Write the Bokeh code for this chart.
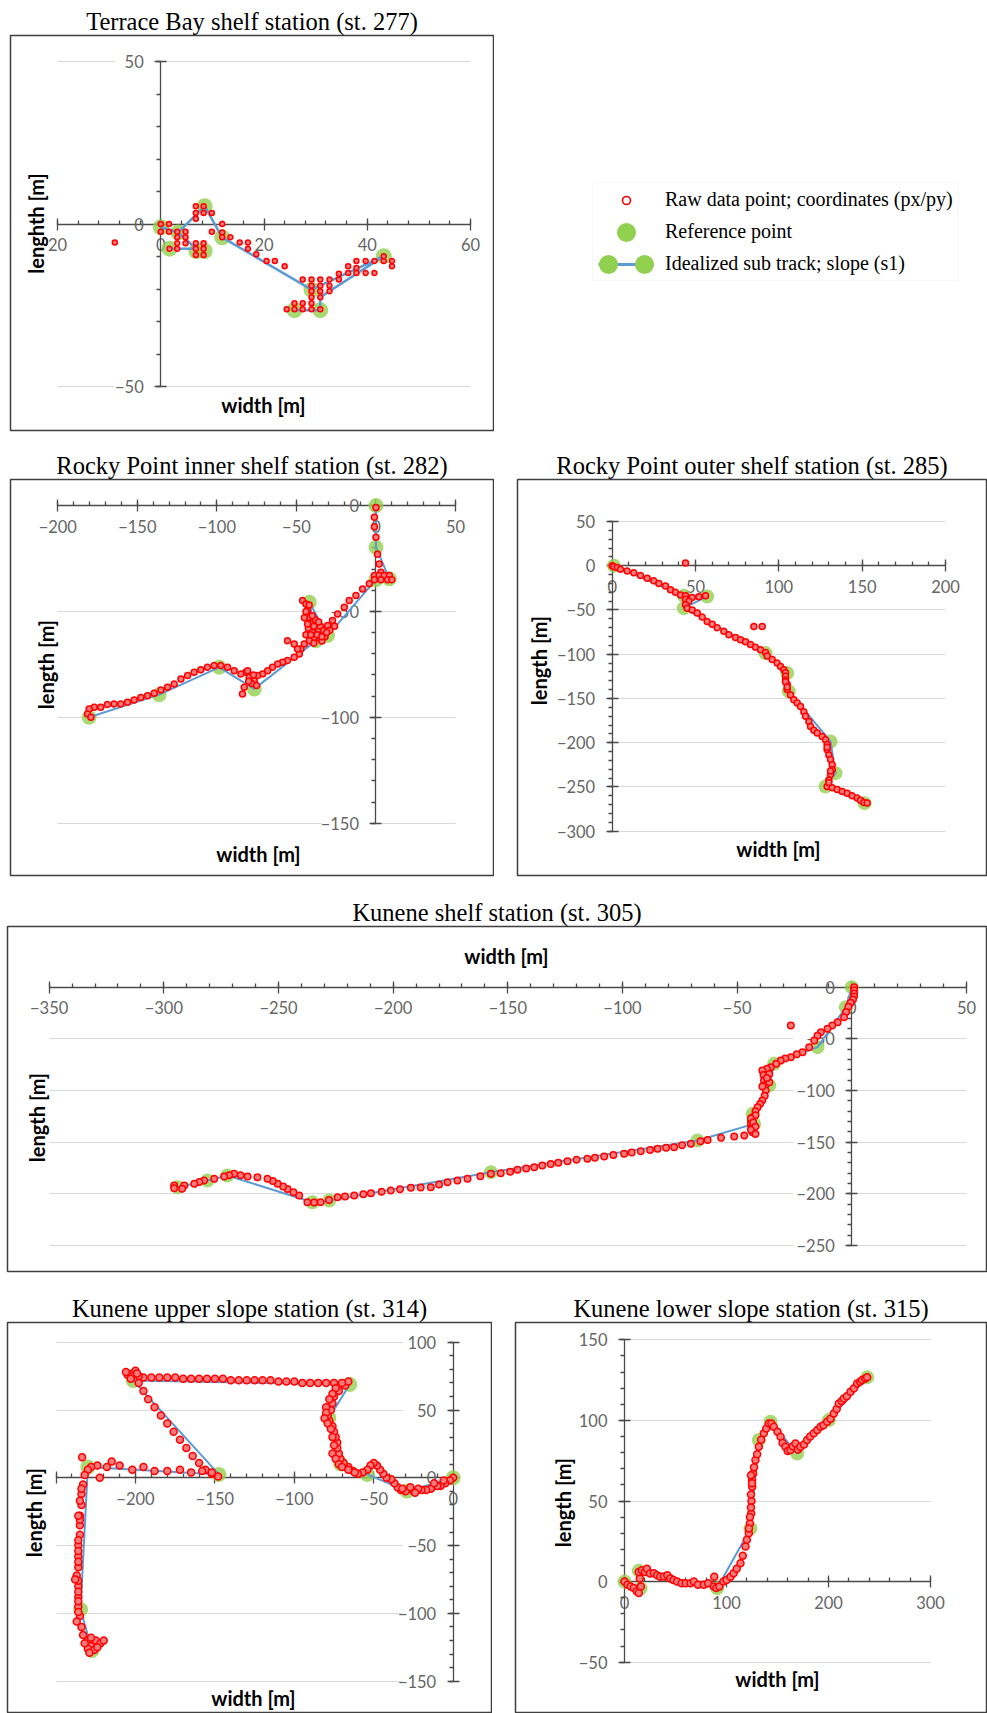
import math
from bokeh.plotting import figure
from bokeh.models import (LinearAxis, FixedTicker, Range1d, Label, Legend, LegendItem,
                          Grid, Spacer)
from bokeh.layouts import row, column
from bokeh.embed import file_html
from bokeh.resources import INLINE

# ------------------------------------------------------------------ data
# Terrace Bay shelf station (st. 277)
raw_277 = [(-8.9,-5.7),(0,0),(1.6,0),(0,-2.4),(1.6,-2.4),(3.2,-2.4),(4.8,-2.4),(3.2,-4.1),(4.8,-4.1),
           (3.2,-5.9),(4.8,-5.9),(3.2,-7.6),(1.7,-7.6),(6.8,5.5),(8.3,5.5),(6.8,3.4),(8.3,3.4),(9.9,3.4),
           (6.8,1.6),(6.8,-5.9),(8.3,-5.9),(6.8,-7.6),(8.3,-7.6),(6.8,-9.5),(8.3,-9.5),(9.9,-2.4),(11.9,0),
           (11.9,-2.6),(11.9,-4.1),(13.5,-4.1),(15.3,-5.7),(16.9,-5.7),(16.9,-7.6),(18.5,-9.3),(20.5,-11.4),
           (22.1,-11.4),(24.0,-13.0),(27.5,-17.1),(29.2,-17.1),(30.9,-17.1),(32.7,-17.1),(29.2,-19.0),
           (30.9,-19.0),(32.7,-19.0),(29.2,-20.7),(30.9,-20.7),(32.7,-20.7),(29.2,-22.5),(30.9,-22.5),
           (25.9,-24.4),(27.5,-24.4),(29.2,-24.4),(24.4,-26.2),(25.9,-26.2),(27.5,-26.2),(29.2,-26.2),
           (30.9,-26.2),(34.5,-15.3),(34.5,-17.1),(36.3,-13.0),(36.3,-15.1),(37.9,-11.4),(37.9,-13.5),
           (37.9,-15.1),(39.7,-11.4),(39.7,-15.1),(41.4,-11.4),(41.4,-15.1),(43.2,-9.9),(43.2,-11.4),
           (44.8,-11.4),(44.8,-13.0)]
ref_277 = [(0,-1),(3.4,-2.6),(1.7,-7.6),(6.9,-8.3),(8.5,-8.3),(8.5,5.5),(11.9,-4.1),(29.2,-20.2),
           (43.2,-9.9),(30.9,-26.5),(25.9,-26.5)]
track_277 = [[(0,-1),(3.4,-2.6),(8.5,5.5),(11.9,-4.1),(29.2,-20.2),(43.2,-9.9),(30.9,-22.5),(30.9,-26.5),(25.9,-26.5)],
             [(3.4,-2.6),(6.9,-7.6)],
             [(1.7,-7.6),(6.9,-7.6)]]

# Rocky Point inner shelf station (st. 282)
raw_282 = [(0,-1),(-1,-5.5),(-1,-10),(0,-15),(1,-23),(2,-27.6),(3.1,-31.5),(-1,-33),(2,-33),(5.2,-33),
           (8.4,-33),(-1,-35),(3.1,-35),(7.3,-35),(10,-35),(-4.2,-37),(-8.4,-39.4),(-12.6,-42.5),
           (-16.8,-44.9),(-19.9,-48),(-24.1,-51.2),(-27.3,-54.3),(-30.4,-56.7),(-26,-57),(-29,-59),
           (-46.1,-44.9),(-44,-46.5),(-43,-49.6),(-41.9,-52.8),(-40.9,-55.9),(-42.5,-58),(-37.7,-59),
           (-34.6,-60.6),(-32,-62),(-36,-62.5),(-38.8,-62.2),(-41.9,-63.8),(-45.1,-65.4),(-47.2,-67.7),
           (-48.2,-70.1),(-51.4,-71.7),(-55.6,-73.2),(-58.7,-74),(-61.8,-74.8),(-65,-76.4),(-68.1,-78),
           (-71.3,-79.5),(-74.4,-80.3),(-76.5,-82.7),(-79.7,-81.1),(-81.8,-78.7),(-82.8,-85.8),(-83.9,-89),
           (-80.7,-78),(-84.9,-79.5),(-89.1,-78),(-93.3,-76.4),(-97.5,-75.6),(-101.7,-75.6),(-105.9,-76.4),
           (-110.1,-77.6),(-114.3,-78.7),(-118.4,-80.3),(-122.6,-81.9),(-126.8,-84.3),(-131,-85.8),
           (-135.2,-87.1),(-139.4,-88.7),(-143.6,-89.8),(-147.8,-90.6),(-152,-91.8),(-156.2,-92.9),
           (-160.4,-93.7),(-164.6,-93.7),(-168.8,-94),(-173,-95.3),(-177.1,-95.3),(-180.3,-96.1),
           (-181.3,-98.4),(-179.2,-100),(-55.6,-63.8),(-51.4,-65.4),(-49.3,-67.7),(-38,-57),(-40,-60),
           (-36,-58.5),(-44,-61),(-39,-65),(-34,-64),(-45,-53),(-43,-56),(-78,-84),(-80,-83),(-77,-80),
           (-75,-85),(-38,-54),(-40,-52),(-42,-47),(-44,-50),(-35,-57),(-33,-59),(-31,-60),(-37,-61),
           (-39,-57),(-41,-61),(-36,-55),(-34,-62)]
ref_282 = [(0,0),(0,-19.7),(8.4,-34.6),(0,-35),(-30.4,-61.4),(-41.9,-45.7),(-37.7,-63.8),(-76.5,-86.6),
           (-98.5,-76.4),(-136.3,-89.3),(-180.3,-100)]

# Rocky Point outer shelf station (st. 285)
raw_285 = [(0,0),(1,-1),(3,-2),(5,-4),(9,-6),(13,-8),(17,-11),(21,-14),(25,-17),(28,-20),(32,-23),(35,-27),
           (38,-30),(41,-33),(44,-34),(48,-36),(52,-35),(56,-34),(44,-38),(46,-40),(44,-44),(45,-48),(48,-50),
           (51,-53.5),(54,-58),(57,-63),(60,-66),(63,-70),(67,-74),(70,-78),(74,-81),(77,-83.6),(80,-86),
           (83,-89),(86,-92),(89,-95),(92,-98),(93,-102),(96,-106),(99,-110),(101,-114),(103,-117.6),
           (104,-121),(104,-125),(104,-129),(105,-134),(105,-140),(107,-146),(109,-151.5),(111,-155),
           (113,-159),(115,-165),(116,-170),(118,-176),(119,-181.6),(121,-186),(123,-189),(126,-193),
           (128,-196.7),(129,-202),(129,-208),(130,-214),(131,-219),(132,-225),(132,-230.6),(131,-236),
           (130,-242),(129,-249.4),(132,-251),(135,-253),(138,-255),(141,-257),(144,-260),(147,-262.6),
           (149,-265),(151,-267.5),(153,-268),(44,3),(85,-68.6),(90,-68.6),(130,-245),(131,-232),
           (129,-205),(104,-131),(105,-137)]
ref_285 = [(1,0),(43,-33.9),(57,-34.7),(43,-47.9),(92,-98.7),(105,-121.3),(106,-142),(131,-198.6),
           (134,-234.4),(128,-249.4),(151.4,-268.3)]

# Kunene shelf station (st. 305)
raw_305 = [(1,0),(1,-3),(1,-6),(1,-9),(0.5,-12),(-0.5,-15),(-1.5,-19),(-2.5,-24),(-3.4,-29),(-6.2,-33.9),
           (-8.5,-37),(-10.6,-40.3),(-13.5,-43.5),(-15,-47),(-16.4,-51.6),(-18.6,-58),(-21.5,-62.9),(-24,-65),
           (-26.6,-67.8),(-29,-69),(-31,-71),(-33,-74),(-35.3,-77.4),(-37,-79),(-39,-80.6),(-38.5,-85),
           (-38.3,-90.3),(-37.8,-95),(-37.5,-100),(-38,-105),(-39,-109.7),(-40,-113),(-41.1,-116.2),
           (-42,-120),(-43.3,-125.8),(-44,-129),(-44,-132.3),(-43.8,-136),(-43.3,-140.4),(-46.9,-143.6),
           (-51.3,-144.6),(-57,-145.8),(-62.9,-147.8),(-66,-149),(-70.2,-151.6),(-74,-153),(-77.5,-154.9),
           (-81,-155.5),(-84.7,-156.4),(-88,-157.5),(-92,-158.8),(-96,-160),(-99.3,-161.3),(-104,-162.5),
           (-108,-163.9),(-112,-165),(-115.3,-166.1),(-120,-167),(-124,-168.4),(-128,-170),(-131.3,-171),
           (-135,-172.5),(-138.5,-174.2),(-142,-175.5),(-145.8,-176.8),(-149,-178.5),(-153.1,-180),
           (-157.4,-180.6),(-162,-183),(-167.6,-185.5),(-172,-187),(-176.3,-188.8),(-180,-191),
           (-183.6,-193.6),(-188,-193.8),(-192.3,-194.2),(-197,-195.5),(-201,-196.8),(-205,-198),
           (-209.7,-199.4),(-213,-200.5),(-217,-201.6),(-221,-202.5),(-224.2,-203.3),(-228,-206),
           (-231.6,-208.1),(-234.5,-208.5),(-237.4,-208.1),(-241,-201.6),(-243.5,-198.5),(-246.1,-195.2),
           (-248,-193),(-250.4,-190.3),(-252.5,-187.5),(-254.8,-185.5),(-259.2,-183.9),(-263.5,-183.3),
           (-266.5,-182),(-269.3,-180.6),(-271.5,-182),(-273.7,-183.3),(-278,-185.5),(-282.4,-187.1),
           (-284.5,-188.5),(-286.7,-190.3),(-291.1,-192),(-295.5,-192),(-295.5,-194.5),(-292,-195),
           (-26.6,-37),(-42,-124),(-44,-127),(-43,-131),(-42,-135),(-44,-138),(-42,-142),(-36,-84),
           (-36,-92),(-39,-96),(-37,-88)]
ref_305 = [(0,0),(-2.6,-19.4),(-15,-58),(-33.9,-74.2),(-36,-95),(-43.3,-122.6),(-42.6,-132.3),
           (-67.3,-148.4),(-157.4,-179),(-227.9,-206.5),(-235.2,-208.1),(-272.3,-182.3),(-281,-187.1),
           (-294,-193.6)]

# Kunene upper slope station (st. 314)
raw_314 = [(0,0),(-2,-2),(-5,-4),(-8,-6),(-10,-6),(-14,-8),(-17,-9),(-20,-9),(-25,-10),(-30,-10),(-33,-9),
           (-35,-7),(-37,-4),(-39,-1),(-42,0),(-44,3),(-46,6),(-48,9),(-50,11),(-52,9),(-54,6),(-57,4),
           (-60,3),(-63,5),(-66,8),(-69,11),(-71,14),(-72,18),(-73,22),(-73,26),(-74,30),(-75,34),(-76,38),
           (-78,42),(-79,46),(-77,50),(-76,55),(-75,60),(-72,64),(-68,68),(-66,71),(-70,70),(-75,70),
           (-80,70),(-85,70),(-90,70),(-95,70),(-100,71),(-105,71),(-110,71),(-115,72),(-120,72),(-125,72),
           (-130,72),(-135,72),(-140,72),(-145,73),(-150,73),(-155,73),(-160,73),(-165,73),(-170,73),
           (-175,74),(-180,74),(-185,74),(-190,74),(-195,74),(-198,75),(-202,77),(-200,79),(-205,76),
           (-198,70),(-195,64),(-192,58),(-188,52),(-184,46),(-180,40),(-176,34),(-172,28),(-168,22),
           (-164,16),(-160,11),(-156,6),(-152,3),(-148,1),(-152,4),(-158,5),(-165,4),(-172,6),(-180,5),
           (-188,5),(-195,8),(-202,6),(-210,9),(-215,12),(-218,8),(-224,9),(-228,8),(-230,6),(-232,2),
           (-233,-5),(-234,-12),(-234,-20),(-235,-28),(-235,-35),(-235,-42),(-236,-50),(-236,-58),
           (-236,-66),(-237,-72),(-236,-80),(-236,-88),(-236,-95),(-235,-102),(-234,-110),(-233,-116),
           (-230,-120),(-228,-124),(-225,-120),(-222,-122),(-226,-127),(-230,-126),(-233.6,15.2),
           (-222.5,0),(-74,66),(-76,62),(-78,58),(-80,52),(-80,48),(-81,44),(-79,40),(-77,36),(-76,30),
           (-75,24),(-76,18),(-74,14),(-72,10),(-70,8),(-66,6),(-62,4),(-22,-8),(-27,-7),(-32,-8),
           (-24,-11),(-12,-4),(-6,-2),(-203,73),(-206,78),(-199,77),(-232,-122),(-228,-118),(-224,-125),
           (-220,-120),(-229,-129),(-235,-31),(-236,-46),(-236,-54),(-236,-62),(-236,-76),(-236,-84),
           (-236,-91),(-236,-99),(-237,-106),(-238,-75),(-235,-17),(-234,-8),(-236,-28)]
ref_314 = [(0,0),(-29,-9.8),(-54.1,2.5),(-70.9,10.3),(-78.3,44.2),(-65.1,68.8),(-201.5,71.8),
           (-147.5,2.5),(-230,7.9),(-234.6,-97.1),(-227.3,-127.3)]

# Kunene lower slope station (st. 315)
raw_315 = [(0,0),(3,-2),(6,-3),(9,-4),(12,-6),(14,-7),(16,-3),(15,2),(14,6),(17,7),(20,6),(22,8),(25,5),
           (28.8,5.2),(32,4),(35,3),(38.6,3.1),(42,4),(45,2),(48,1),(51.6,0),(56,-1),(60,-1),(64.7,-1),
           (68,0),(72,-2),(77.8,-2),(82,-1),(87.6,-3.1),(88,3),(90,-4),(93,-3),(97,0),(100,1),(104,3),
           (107,5.2),(110,8),(113.7,11.4),(116,16),(118.6,21.7),(120,26),(121.9,30),(123,36),(124.2,42.4),
           (124.5,50),(125.2,58.9),(125,63),(126.1,67),(127,71),(128.4,75.4),(130,79),(131.7,83.7),(134,88),
           (136.6,92),(139,95),(141.5,98.1),(144,98),(146.4,96),(150,93),(153,89.9),(155,86),(157.8,83.7),
           (160,81),(162.7,81.6),(165,84),(167.6,85.7),(170,82),(172.5,83.7),(176,85),(179,87.8),(182,90),
           (185.6,92),(189,94),(192.2,96),(195,97),(198.7,99.2),(202,101),(205.2,104.3),(208,107),
           (210.1,110.5),(213,112),(215,113.6),(218,115),(221.6,117.8),(225,120),(228.1,122.9),(231,124),
           (233,125),(236,126),(237.9,126.7),(122,33),(123,40),(124,46),(124,54),(125,61),(124,66)]
ref_315 = [(0,0),(15.7,-4.1),(14,6.8),(90.8,-4.1),(123.5,33),(131.7,87.8),(143.1,99.2),(169.3,79.5),
           (200.3,100.2),(237.9,126.7)]

# tick values per panel
x_ticks_277, y_ticks_277 = [-20, 0, 20, 40, 60], [-50, 0, 50]
x_ticks_282, y_ticks_282 = [-200, -150, -100, -50, 0, 50], [-150, -100, -50, 0]
x_ticks_285, y_ticks_285 = [0, 50, 100, 150, 200], [-300, -250, -200, -150, -100, -50, 0, 50]
x_ticks_305, y_ticks_305 = [-350, -300, -250, -200, -150, -100, -50, 0, 50], [-250, -200, -150, -100, -50, 0]
x_ticks_314, y_ticks_314 = [-250, -200, -150, -100, -50, 0], [-150, -100, -50, 0, 50, 100]
x_ticks_315, y_ticks_315 = [0, 100, 200, 300], [-50, 0, 50, 100, 150]

legend_labels = ["Raw data point; coordinates (px/py)", "Reference point", "Idealized sub track; slope (s1)"]

# ------------------------------------------------------------------ style
AXC = "#4a4a4a"
RED = "#ff0000"
GREEN = "#92D050"
BLUE = "#5B9BD5"
GRIDC = "#d9d9d9"
TICKF = "Lato"


def lin(p, va, pa, vb, pb):
    return va + (p - pa) * (vb - va) / (pb - pa)


def make_axis(ticks, minor, side, overrides=None):
    ax = LinearAxis(fixed_location=0, bounds=(min(ticks), max(ticks)),
                    ticker=FixedTicker(ticks=ticks, minor_ticks=minor),
                    axis_line_color=AXC, axis_line_width=1.3,
                    major_tick_line_color=AXC, major_tick_line_width=1.3,
                    major_tick_in=6, major_tick_out=6,
                    minor_tick_line_color=AXC, minor_tick_line_width=1.3,
                    minor_tick_in=4 if side == "below" else 0,
                    minor_tick_out=0 if side == "below" else 4,
                    major_label_text_font=TICKF, major_label_text_font_size="16.5px",
                    major_label_text_color="#666666",
                    major_label_standoff=8 if side == "below" else 11)
    if overrides:
        ax.major_label_overrides = overrides
    return ax


def make_panel(s):
    cx, cy, cw, ch = s["canvas"]
    fx0, fy0, fx1, fy1 = s["frame"]
    xc, yc = s["xcal"], s["ycal"]
    X = lambda px: lin(px, *xc)
    Y = lambda py: lin(py, *yc)
    p = figure(width=cw, height=ch,
               x_range=Range1d(X(fx0), X(fx1)), y_range=Range1d(Y(fy1), Y(fy0)),
               x_axis_type=None, y_axis_type=None, toolbar_location=None,
               output_backend="svg", title=s["title"],
               min_border_left=fx0 - cx, min_border_right=cx + cw - fx1,
               min_border_top=fy0 - cy, min_border_bottom=cy + ch - fy1)
    p.outline_line_color = "#3f3f3f"
    p.outline_line_width = 1.5
    p.background_fill_color = "white"
    p.border_fill_color = "white"
    p.title.align = "center"
    p.title.text_font = "Liberation Serif"
    p.title.text_font_size = "24.5px"
    p.title.text_font_style = "normal"
    p.title.text_color = "black"
    p.title.offset = s["toff"]
    p.title.standoff = 2

    xt, yt = s["xticks"], s["yticks"]
    step_x, step_y = s["xminor"], 10
    xminor = list(range(min(xt), max(xt) + 1, step_x))
    yminor = list(range(min(yt), max(yt) + 1, step_y))

    for lo, hi in s["grid"]:
        g = Grid(dimension=1, ticker=FixedTicker(ticks=yt), cross_bounds=(lo, hi),
                 grid_line_color=GRIDC, grid_line_width=1)
        p.add_layout(g)

    p.add_layout(make_axis(xt, xminor, "below", s.get("xover")), "below")
    p.add_layout(make_axis(yt, yminor, "left"), "left")

    ref, raw = s["ref"], s["raw"]
    r1 = p.scatter([q[0] for q in ref], [q[1] for q in ref], size=s["refsize"],
                   fill_color=GREEN, fill_alpha=0.8, line_color=None)
    tracks = s.get("tracks", [ref])
    r2 = p.multi_line([[q[0] for q in t] for t in tracks], [[q[1] for q in t] for t in tracks],
                      line_color=BLUE, line_width=s["lw"])
    r3 = p.scatter([q[0] for q in raw], [q[1] for q in raw], size=s["rawsize"],
                   line_color=RED, line_width=1.5, fill_color="#ff7a7a")
    for r in (r1, r2, r3):
        r.level = "annotation"

    xtp, ytp = s["xtitle"], s["ytitle"]
    p.add_layout(Label(x=X(xtp[0]), y=Y(xtp[1]), text="width [m]", text_align="center",
                       text_baseline="middle", text_font="Lato", text_font_style="bold",
                       text_font_size="20px", text_color="black"))
    p.add_layout(Label(x=X(ytp[0]), y=Y(ytp[1]), text=s["ylabel"], text_align="center",
                       text_baseline="middle", text_font="Lato", text_font_style="bold",
                       text_font_size="20px", text_color="black", angle=math.pi / 2))
    return p


specs = [
    dict(title="Terrace Bay shelf station (st. 277)", canvas=(9, 0, 485, 445), frame=(10, 35, 493, 430),
         xcal=(-20, 57, 60, 470), ycal=(50, 61, -50, 386), xticks=x_ticks_277, yticks=y_ticks_277,
         xminor=4, grid=[(-20, -9), (0, 60)], xover={-20: "20"}, raw=raw_277, ref=ref_277,
         tracks=track_277, refsize=16, rawsize=5, lw=2.5, xtitle=(263, 404), ytitle=(35, 223),
         ylabel="lenghth [m]", toff=1),
    dict(title="Rocky Point inner shelf station (st. 282)", canvas=(9, 445, 485, 445),
         frame=(10, 479, 493, 875), xcal=(-200, 57.3, 50, 455), ycal=(0, 505, -150, 822.7),
         xticks=x_ticks_282, yticks=y_ticks_282, xminor=10, grid=[(-200, -34), (0, 50)],
         raw=raw_282, ref=ref_282, refsize=15, rawsize=6, lw=2, xtitle=(258, 853), ytitle=(45, 664),
         ylabel="length [m]", toff=1),
    dict(title="Rocky Point outer shelf station (st. 285)", canvas=(516, 445, 471, 445),
         frame=(517, 479, 986, 875), xcal=(0, 611.7, 200, 945), ycal=(50, 521, -300, 830.7),
         xticks=x_ticks_285, yticks=y_ticks_285, xminor=10, grid=[(0, 200)],
         raw=raw_285, ref=ref_285, refsize=14, rawsize=6, lw=2, xtitle=(778, 848), ytitle=(538, 660),
         ylabel="length [m]", toff=8),
    dict(title="Kunene shelf station (st. 305)", canvas=(6, 890, 981, 395), frame=(7, 926, 986, 1271),
         xcal=(-350, 48.7, 50, 966), ycal=(0, 986.7, -250, 1245), xticks=x_ticks_305, yticks=y_ticks_305,
         xminor=10, grid=[(-350, -25.5), (0, 50)], raw=raw_305, ref=ref_305, refsize=14, rawsize=6.5,
         lw=2, xtitle=(506, 955), ytitle=(36, 1117), ylabel="length [m]", toff=7.5),
    dict(title="Kunene upper slope station (st. 314)", canvas=(6, 1285, 486, 428),
         frame=(7, 1322, 491, 1712), xcal=(-200, 135, 0, 452.7), ycal=(100, 1341.7, -150, 1680.7),
         xticks=x_ticks_314, yticks=y_ticks_314, xminor=10, grid=[(-250, -32)], xover={-250: ""},
         raw=raw_314, ref=ref_314, refsize=15, rawsize=7, lw=2, xtitle=(253, 1697), ytitle=(33, 1512),
         ylabel="length [m]", toff=1),
    dict(title="Kunene lower slope station (st. 315)", canvas=(514, 1285, 473, 428),
         frame=(515, 1322, 986, 1712), xcal=(0, 624, 300, 930), ycal=(150, 1339.3, -50, 1661.7),
         xticks=x_ticks_315, yticks=y_ticks_315, xminor=20, grid=[(0, 300)],
         raw=raw_315, ref=ref_315, refsize=14, rawsize=7, lw=2, xtitle=(777, 1678), ytitle=(562, 1502),
         ylabel="length [m]", toff=6.5),
]

panels = [make_panel(s) for s in specs]

# ------------------------------------------------------------------ legend figure
# the legend's sample glyphs need one (hidden, off-range) row to be drawn
lg = figure(width=493, height=445, x_range=Range1d(0, 1), y_range=Range1d(0, 1),
            x_axis_type=None, y_axis_type=None, toolbar_location=None, output_backend="svg",
            min_border=0, outline_line_color=None)
hid_x, hid_y = [-5, -4], [-5, -4]
r_raw = lg.scatter(hid_x, hid_y, size=6, line_color=RED, line_width=1.6, fill_color="white")
r_ref = lg.scatter(hid_x, hid_y, size=6, fill_color=GREEN, line_color=GREEN, line_width=11)
r_blue = lg.line(hid_x, hid_y, line_color=BLUE, line_width=3)
r_dots = lg.line(hid_x, hid_y, line_color=GREEN, line_width=19, line_cap="round",
                 line_dash="0 36", line_dash_offset=26)
legend = Legend(items=[LegendItem(label=legend_labels[0], renderers=[r_raw], index=0),
                       LegendItem(label=legend_labels[1], renderers=[r_ref], index=0),
                       LegendItem(label=legend_labels[2], renderers=[r_blue, r_dots])],
                location=(98, 149), glyph_width=56, glyph_height=20, label_height=22,
                label_standoff=11, spacing=9, padding=5,
                label_text_font="Liberation Serif", label_text_font_size="20px",
                label_text_color="black", border_line_color="#f0f0f0", background_fill_color="white")
lg.add_layout(legend)

layout = column(
    row(Spacer(width=9, height=445), panels[0], lg),
    row(Spacer(width=9, height=445), panels[1], Spacer(width=22, height=445), panels[2]),
    row(Spacer(width=6, height=395), panels[3]),
    row(Spacer(width=6, height=428), panels[4], Spacer(width=22, height=428), panels[5]),
)

open("out.html", "w").write(file_html(layout, INLINE))
